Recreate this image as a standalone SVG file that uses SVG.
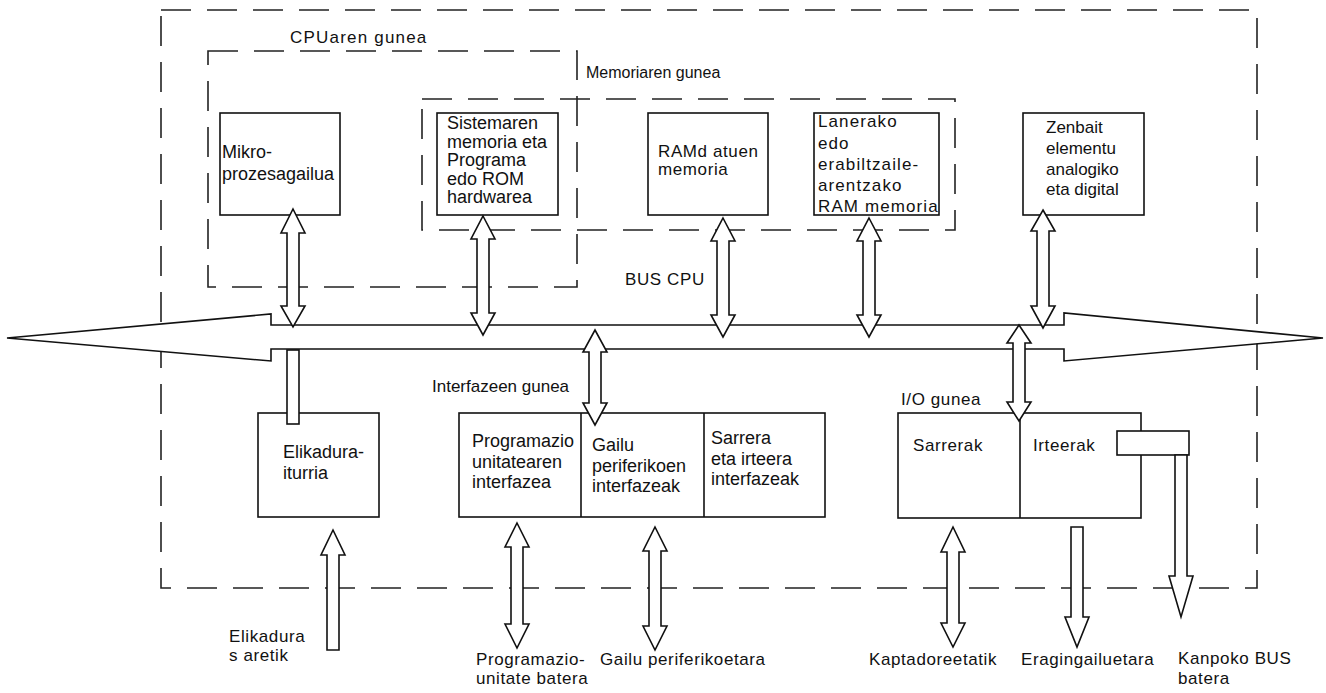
<svg xmlns="http://www.w3.org/2000/svg" width="1326" height="693" viewBox="0 0 1326 693">
<style>
.dash{fill:none;stroke:#222;stroke-width:1.6;stroke-dasharray:30 16}
.box{fill:#fff;stroke:#111;stroke-width:1.6}
.arr{fill:#fff;stroke:#111;stroke-width:1.6;stroke-linejoin:miter}
.t{font-family:"Liberation Sans",Arial,sans-serif;font-size:18px;fill:#111}
.p{font-family:"Liberation Sans",Arial,sans-serif;font-size:17px;letter-spacing:0.6px;fill:#111}
</style>
<rect width="1326" height="693" fill="#fff"/>
<g id="zones">
<rect class="dash" x="161" y="10" width="1096" height="578"/>
<rect class="dash" x="208" y="51" width="369" height="236"/>
<rect class="dash" x="422" y="99" width="533" height="131"/>
<text class="p" x="290" y="43" style="letter-spacing:1.2px">CPUaren gunea</text>
<text class="t" x="586" y="78" style="font-size:16px">Memoriaren gunea</text>
<text class="p" x="625" y="285">BUS CPU</text>
<text class="t" x="432" y="392" style="font-size:17px">Interfazeen gunea</text>
<text class="p" x="901" y="405">I/O gunea</text>
</g>
<g id="mikro">
<rect class="box" x="220" y="113" width="120" height="102"/>
<text class="t" x="222" y="158">Mikro-</text>
<text class="t" x="222" y="180">prozesagailua</text>
</g>
<g id="sistema">
<rect class="box" x="437" y="113" width="121" height="102"/>
<text class="t" x="447" y="129">Sistemaren</text>
<text class="t" x="447" y="147.5">memoria eta</text>
<text class="t" x="447" y="166">Programa</text>
<text class="t" x="447" y="184.5">edo ROM</text>
<text class="t" x="447" y="203">hardwarea</text>
</g>
<g id="ramdatu">
<rect class="box" x="648" y="113" width="120" height="102"/>
<text class="p" x="658" y="157">RAMd atuen</text>
<text class="p" x="658" y="175">memoria</text>
</g>
<g id="ramlan">
<rect class="box" x="814" y="113" width="125" height="102"/>
<text class="p" x="818" y="127" style="letter-spacing:1.1px">Lanerako</text>
<text class="p" x="818" y="149" style="letter-spacing:1.1px">edo</text>
<text class="p" x="818" y="170" style="letter-spacing:1.1px">erabiltzaile-</text>
<text class="p" x="818" y="191" style="letter-spacing:1.1px">arentzako</text>
<text class="p" x="818" y="212" style="letter-spacing:1.1px">RAM memoria</text>
</g>
<g id="zenbait">
<rect class="box" x="1023" y="113" width="121" height="102"/>
<text class="t" x="1046" y="133" style="font-size:17px">Zenbait</text>
<text class="t" x="1046" y="154" style="font-size:17px">elementu</text>
<text class="t" x="1046" y="175" style="font-size:17px">analogiko</text>
<text class="t" x="1046" y="195" style="font-size:17px">eta digital</text>
</g>
<g id="elikadura">
<rect class="box" x="258" y="413" width="121" height="104"/>
<text class="t" x="283" y="458">Elikadura-</text>
<text class="t" x="283" y="479">iturria</text>
</g>
<g id="interfazeak">
<rect class="box" x="459" y="413" width="366" height="104"/>
<line x1="581" y1="413" x2="581" y2="517" stroke="#111" stroke-width="1.6"/>
<line x1="704" y1="413" x2="704" y2="517" stroke="#111" stroke-width="1.6"/>
<text class="t" x="472" y="447">Programazio</text>
<text class="t" x="472" y="468">unitatearen</text>
<text class="t" x="472" y="488">interfazea</text>
<text class="t" x="592" y="451">Gailu</text>
<text class="t" x="592" y="472">periferikoen</text>
<text class="t" x="592" y="492">interfazeak</text>
<text class="t" x="711" y="444">Sarrera</text>
<text class="t" x="711" y="465">eta irteera</text>
<text class="t" x="711" y="485">interfazeak</text>
</g>
<g id="io">
<rect class="box" x="898" y="413" width="243" height="105"/>
<line x1="1020" y1="413" x2="1020" y2="518" stroke="#111" stroke-width="1.6"/>
<rect class="box" x="1117" y="431" width="72" height="24"/>
<text class="p" x="913" y="451">Sarrerak</text>
<text class="p" x="1033" y="451">Irteerak</text>
</g>
<g id="connectors">
<polygon id="bus" class="arr" points="7,338 271,314 271,325 1064,325 1064,313 1323,338 1064,361 1064,349 271,349 271,361"/>
<path class="arr" d="M293 209 L305 233 L299 233 L299 306 L305 306 L293 327 L281 306 L287 306 L287 233 L281 233 Z"/>
<path class="arr" d="M483 216 L495 239 L489 239 L489 313 L495 313 L483 335 L471 313 L477 313 L477 239 L471 239 Z"/>
<path class="arr" d="M723 218 L735 241 L729 241 L729 315 L735 315 L723 337 L711 315 L717 315 L717 241 L711 241 Z"/>
<path class="arr" d="M869 218 L881 241 L875 241 L875 315 L881 315 L869 337 L857 315 L863 315 L863 241 L857 241 Z"/>
<path class="arr" d="M1043 210 L1055 231 L1049 231 L1049 306 L1055 306 L1043 328 L1031 306 L1037 306 L1037 231 L1031 231 Z"/>
<path class="arr" d="M595 330 L607 352 L601 352 L601 403 L607 403 L595 425 L583 403 L589 403 L589 352 L583 352 Z"/>
<path class="arr" d="M1019 325 L1031 343 L1025 343 L1025 402 L1031 402 L1019 421 L1007 402 L1013 402 L1013 343 L1007 343 Z"/>
<rect class="arr" x="287" y="350" width="12" height="74"/>
<path class="arr" d="M333 530 L345 555 L339 555 L339 650 L327 650 L327 555 L321 555 Z"/>
<path class="arr" d="M517 523 L529 547 L523 547 L523 624 L529 624 L517 648 L505 624 L511 624 L511 547 L505 547 Z"/>
<path class="arr" d="M655 527 L667 551 L661 551 L661 626 L667 626 L655 650 L643 626 L649 626 L649 551 L643 551 Z"/>
<path class="arr" d="M953 527 L965 552 L959 552 L959 623 L965 623 L953 647 L941 623 L947 623 L947 552 L941 552 Z"/>
<path class="arr" d="M1071 527 L1083 527 L1083 617 L1089 617 L1077 647 L1065 617 L1071 617 Z"/>
<path class="arr" d="M1175 455 L1187 455 L1187 576 L1193 576 L1181 617 L1169 576 L1175 576 Z"/>
</g>
<g id="labels">
<text class="p" x="229" y="642">Elikadura</text>
<text class="p" x="229" y="661">s aretik</text>
<text class="p" x="476" y="665">Programazio-</text>
<text class="p" x="476" y="684">unitate batera</text>
<text class="p" x="600" y="665">Gailu periferikoetara</text>
<text class="p" x="869" y="665">Kaptadoreetatik</text>
<text class="p" x="1021" y="665">Eragingailuetara</text>
<text class="p" x="1178" y="664">Kanpoko BUS</text>
<text class="p" x="1178" y="684">batera</text>
</g>
</svg>
